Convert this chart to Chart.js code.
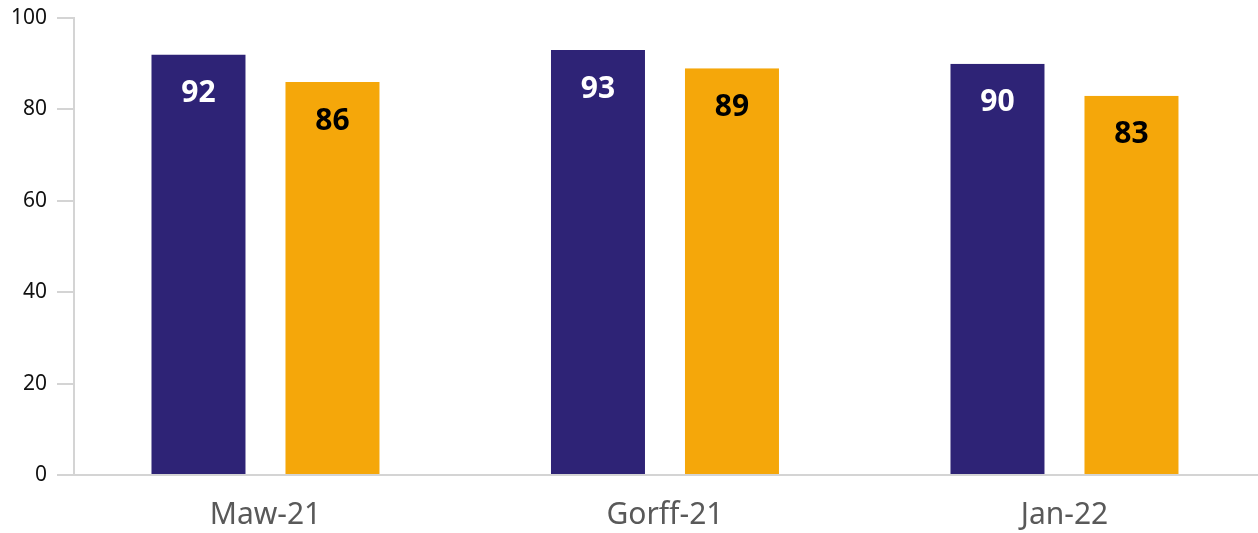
<!DOCTYPE html>
<html>
<head>
<meta charset="utf-8">
<script src="https://cdn.jsdelivr.net/npm/chart.js@4/dist/chart.umd.min.js"></script>
<style>
  html, body { margin: 0; padding: 0; background: #fff; }
  #wrap { width: 1258px; height: 533px; position: relative; }
</style>
</head>
<body>
<div id="wrap"><canvas id="c" width="1258" height="533"></canvas></div>
<script>
const categories = ['Maw-21', 'Gorff-21', 'Jan-22'];
const seriesA = [92, 93, 90];
const seriesB = [86, 89, 83];
const yTicks = [0, 20, 40, 60, 80, 100];

const navy = 'rgb(46,35,118)';
const orange = 'rgb(245,167,10)';

const labelPlugin = {
  id: 'barLabels',
  afterDatasetsDraw(chart) {
    const ctx = chart.ctx;
    ctx.save();
    ctx.font = 'bold 30px "Open Sans", "Noto Sans", sans-serif';
    ctx.textAlign = 'center';
    ctx.textBaseline = 'middle';
    chart.data.datasets.forEach((ds, i) => {
      const meta = chart.getDatasetMeta(i);
      meta.data.forEach((bar, j) => {
        ctx.fillStyle = i === 0 ? '#ffffff' : '#000000';
        ctx.fillText(String(ds.data[j].y), bar.x, bar.y + 39);
      });
    });
    ctx.restore();
  }
};

const toPoints = arr => arr.map((v, i) => ({ x: i, y: v }));
const transparentBorder = { left: 20, right: 20, top: 0, bottom: 0 };

new Chart(document.getElementById('c'), {
  type: 'bar',
  data: {
    datasets: [
      { data: toPoints(seriesA), backgroundColor: navy, borderColor: 'rgba(0,0,0,0)', borderWidth: transparentBorder, borderSkipped: false, categoryPercentage: 0.6708, barPercentage: 1 },
      { data: toPoints(seriesB), backgroundColor: orange, borderColor: 'rgba(0,0,0,0)', borderWidth: transparentBorder, borderSkipped: false, categoryPercentage: 0.6708, barPercentage: 1 }
    ]
  },
  options: {
    responsive: false,
    animation: false,
    layout: { padding: { top: 18, right: 0, left: 0, bottom: 0 } },
    plugins: { legend: { display: false }, tooltip: { enabled: false } },
    scales: {
      x: {
        type: 'linear',
        offset: false,
        min: -0.4793,
        max: 2.4844,
        grid: { display: false, drawTicks: false, offset: false },
        border: { display: true, color: '#d4d4d4', width: 2 },
        ticks: {
          stepSize: 1,
          includeBounds: false,
          autoSkip: false,
          maxRotation: 0,
          padding: 22,
          color: '#595959',
          font: { family: '"Noto Sans", sans-serif', size: 30 },
          callback: v => (Number.isInteger(v) && categories[v] !== undefined) ? categories[v] : ''
        },
        afterFit: s => { s.height = 58; s.paddingLeft = 0; s.paddingRight = 0; }
      },
      y: {
        min: 0,
        max: 100,
        afterBuildTicks: s => { s.ticks = yTicks.map(v => ({ value: v })); },
        grid: { drawOnChartArea: false, drawTicks: true, tickLength: 17, color: '#d4d4d4', lineWidth: 2 },
        border: { display: true, color: '#d4d4d4', width: 2 },
        ticks: {
          padding: 10,
          color: '#111111',
          font: { family: '"Noto Sans", sans-serif', size: 21 }
        },
        afterFit: s => { s.width = 74; s.paddingTop = 0; s.paddingBottom = 0; }
      }
    }
  },
  plugins: [labelPlugin]
});
</script>
</body>
</html>
